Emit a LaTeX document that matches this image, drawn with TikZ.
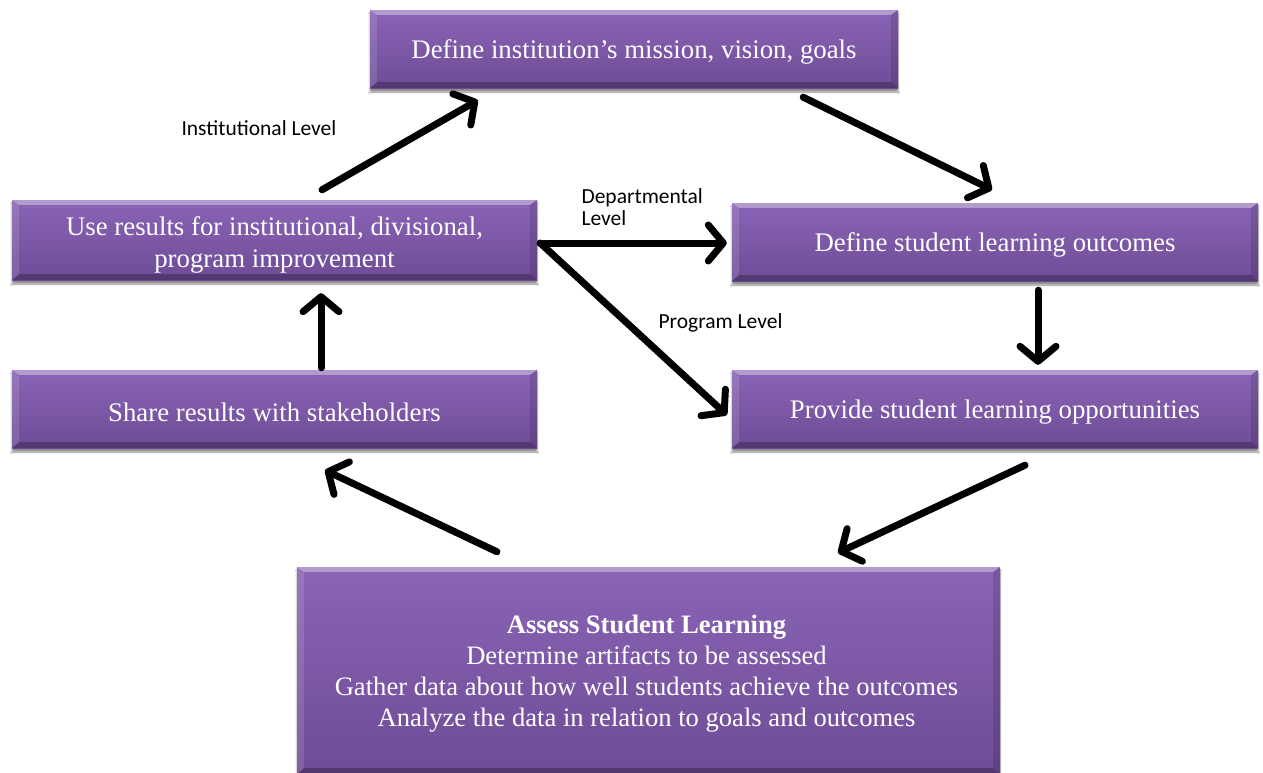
\documentclass[tikz,border=0pt]{standalone}
\usepackage{fontspec}
\setmainfont{Liberation Serif}
\newfontfamily\lblfont{Carlito}
\usetikzlibrary{arrows.meta,shadows.blur}

\definecolor{boxtop}{RGB}{138,100,182}
\definecolor{boxbot}{RGB}{110,76,150}

\tikzset{
  stepbox/.style={rectangle, top color=boxtop, bottom color=boxbot, draw=none,
    blur shadow={shadow xshift=0pt, shadow yshift=-4pt,
      shadow blur steps=6, shadow opacity=45}},
  boxtext/.style={text=white, align=center, inner sep=0pt,
    font=\fontsize{26.8}{31.5}\selectfont},
  arr/.style={line width=7pt, line cap=round,
    -{Straight Barb[length=15pt,width=36pt,line width=7pt,round]}},
  lvl/.style={font=\lblfont\fontsize{21.5}{25}\selectfont, align=left, text=black},
}

% bevelled rim around a named box
\newcommand\rim[1]{%
  \fill[white,opacity=0.35] (#1.north west) -- (#1.north east)
     -- ([xshift=-7pt,yshift=-5pt]#1.north east) -- ([xshift=7pt,yshift=-5pt]#1.north west) -- cycle;
  \fill[white,opacity=0.12] (#1.north west) -- ([xshift=7pt,yshift=-5pt]#1.north west)
     -- ([xshift=7pt,yshift=6pt]#1.south west) -- (#1.south west) -- cycle;
  \fill[black,opacity=0.12] (#1.north east) -- ([xshift=-7pt,yshift=-5pt]#1.north east)
     -- ([xshift=-7pt,yshift=6pt]#1.south east) -- (#1.south east) -- cycle;
  \fill[black,opacity=0.25] (#1.south west) -- ([xshift=7pt,yshift=6pt]#1.south west)
     -- ([xshift=-7pt,yshift=6pt]#1.south east) -- (#1.south east) -- cycle;
}

\begin{document}
\begin{tikzpicture}[x=1pt,y=-1pt]
\useasboundingbox[fill=white] (0,0) rectangle (1263,772);

% boxes
\node[stepbox, minimum width=528pt, minimum height=78pt] (mission) at (634,49) {};
\node[stepbox, minimum width=525pt, minimum height=80pt] (use) at (274.5,240) {};
\node[stepbox, minimum width=526pt, minimum height=78pt] (slo) at (995,242) {};
\node[stepbox, minimum width=525pt, minimum height=78pt] (share) at (274.5,409) {};
\node[stepbox, minimum width=526pt, minimum height=78pt] (prov) at (995,409) {};
\node[stepbox, minimum width=703pt, minimum height=207pt] (assess) at (648.5,670.5) {};

\foreach \b in {mission,use,slo,share,prov,assess} {\rim{\b}}

% box texts
\node[boxtext] (mission-t) at ([yshift=-3pt]mission.center) {Define institution's mission, vision, goals};
\node[boxtext] (use-t) at ([yshift=-5pt]use.center)
  {Use results for institutional, divisional,\\program improvement};
\node[boxtext] (slo-t) at ([yshift=-3pt]slo.center) {Define student learning outcomes};
\node[boxtext] (share-t) at ([yshift=-3pt]share.center) {Share results with stakeholders};
\node[boxtext] (prov-t) at ([yshift=-3pt]prov.center) {Provide student learning opportunities};
\node[boxtext, font=\fontsize{26.6}{31}\selectfont] (assess-t) at ([xshift=-2pt,yshift=-3pt]assess.center)
  {\textbf{Assess Student Learning}\\Determine artifacts to be assessed\\
   Gather data about how well students achieve the outcomes\\
   Analyze the data in relation to goals and outcomes};

% flow of the cycle
\draw[arr] ([xshift=47.5pt,yshift=10pt]use.north) -- ([xshift=108pt,yshift=-12pt]mission.south west);
\draw[arr] ([xshift=-95pt,yshift=-9pt]mission.south east) -- ([xshift=-3pt,yshift=13pt]slo.north);
\draw[arr] ([xshift=43pt,yshift=-9pt]slo.south) -- ([xshift=43pt,yshift=5pt]prov.north);
\draw[arr] ([xshift=30pt,yshift=-17pt]prov.south) -- ([xshift=189.5pt,yshift=14pt]assess.north);
\draw[arr] ([xshift=-151.5pt,yshift=15pt]assess.north) -- ([xshift=50.5pt,yshift=-22pt]share.south);
\draw[arr] ([xshift=46.5pt,yshift=2pt]share.north) -- ([xshift=46.5pt,yshift=-13pt]use.south);
\draw[arr] ([xshift=3pt,yshift=-3pt]use.east) -- ([xshift=-5pt,yshift=-1pt]slo.west);
\draw[arr] ([xshift=3pt,yshift=-3pt]use.east) -- ([xshift=-5pt,yshift=-6pt]prov.west);

% level labels
\node[lvl, anchor=west] (inst) at (178,128) {Institutional Level};
\node[lvl, anchor=west] (dept) at (578,207) {Departmental\\[-3pt]Level};
\node[lvl, anchor=west] (prog) at (655,323) {Program Level};
\end{tikzpicture}
\end{document}
